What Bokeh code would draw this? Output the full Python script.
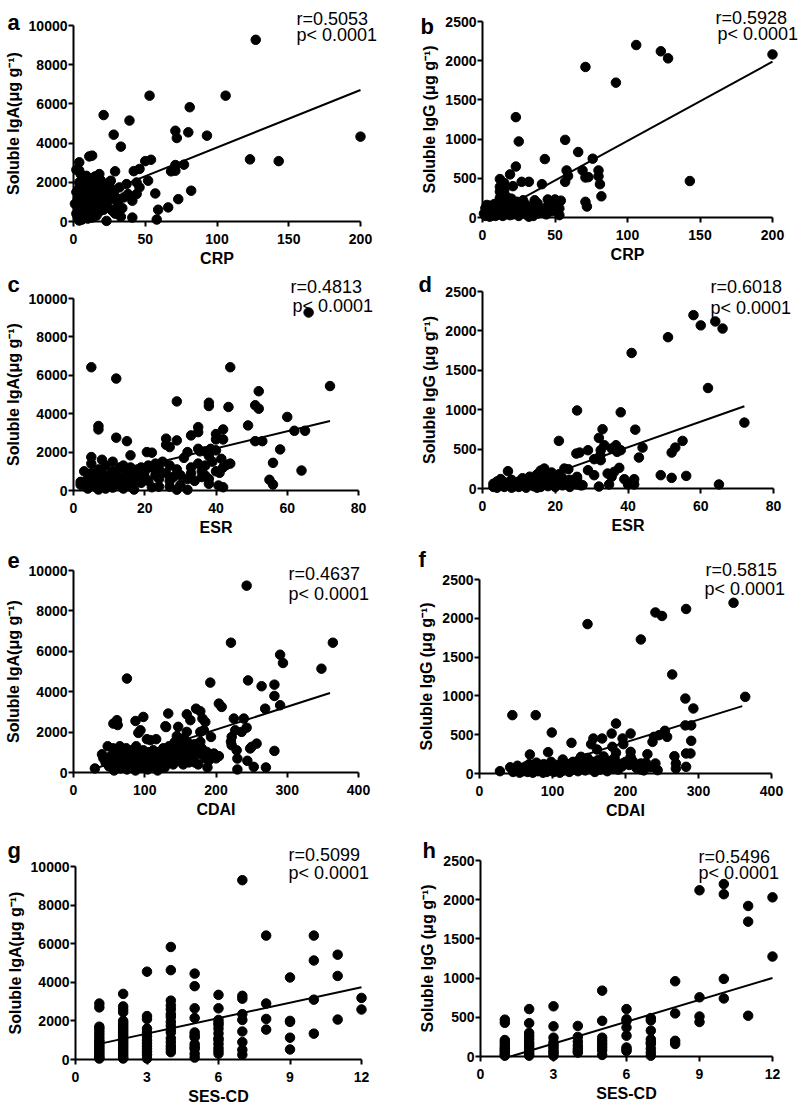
from bokeh.plotting import figure
from bokeh.models import Label, FixedTicker, Range1d
from bokeh.layouts import row, column
from bokeh.embed import file_html
from bokeh.resources import INLINE

FONT = "Liberation Sans"

# ---------------- data ----------------
# panel a: CRP vs soluble IgA
crp_iga = [
    (127, 9270), (53, 6420), (106, 6420), (81, 5830), (21, 5430), (39, 5150), (28, 4430), (71, 4630),
    (72, 4260), (80, 4550), (93, 4380), (200, 4330), (33, 3820), (123, 3170), (143, 3080), (50, 3080),
    (54, 3150), (71, 2880), (71, 2590), (77, 2900), (68, 2560), (29, 2560), (42, 2570), (46, 2680),
    (52, 2080), (82, 1570), (57, 1430), (73, 1140), (66, 720), (59, 600), (58, 100), (41, 200),
    (41, 1060), (33, 240), (34, 680), (27, 550), (23, 30), (37, 1910), (38, 1400), (44, 1990),
    (46, 1740), (44, 1400), (32, 1740), (35, 1230), (2, 2640), (4, 3020), (11, 3320), (13, 3360),
    (5, 2420), (4, 1990), (9, 2330), (18, 2420), (17, 2160), (25, 1990), (26, 2080),
    (1, 900), (2, 400), (2, 1500), (3, 200), (3, 700), (3, 1200), (4, 50), (4, 1000), (4, 1700),
    (5, 300), (5, 600), (5, 1400), (6, 100), (6, 800), (6, 1900), (7, 500), (7, 1100), (7, 1300),
    (8, 200), (8, 700), (8, 1600), (9, 400), (9, 900), (9, 1200), (10, 150), (10, 600), (10, 1000),
    (10, 1500), (11, 300), (11, 800), (11, 2000), (12, 500), (12, 1100), (12, 1300), (13, 200),
    (13, 700), (13, 1600), (14, 400), (14, 900), (14, 1800), (15, 600), (15, 1200), (16, 300),
    (16, 1000), (16, 1400), (17, 800), (17, 1700), (18, 500), (18, 1100), (19, 700), (19, 1300),
    (20, 900), (20, 1600), (21, 600), (21, 1200), (22, 1000), (22, 1500), (23, 800), (24, 1300),
    (25, 1100), (26, 1700), (27, 600), (28, 1500), (29, 400), (30, 1200), (31, 900), (4, 2600),
    (6, 2200), (15, 2300), (16, 1800), (19, 2100), (23, 1900), (25, 1500),
]
# panel b: CRP vs soluble IgG
crp_igg = [
    (106, 2200), (123, 2120), (128, 2030), (200, 2080), (71, 1920), (92, 1720), (23, 1280), (25, 970),
    (57, 990), (66, 835), (43, 745), (76, 750), (23, 650), (58, 600), (59, 530), (57, 455), (69, 600),
    (71, 510), (73, 515), (80, 600), (80, 525), (81, 425), (82, 270), (71, 200), (72, 140), (143, 465),
    (19, 550), (21, 400), (15, 440), (12, 490), (12, 390), (13, 305), (15, 350), (27, 455), (32, 455),
    (41, 425), (45, 230), (50, 230), (54, 215), (53, 115), (53, 30), (36, 220), (32, 10),
    (1, 50), (2, 120), (2, 20), (3, 80), (3, 160), (4, 40), (4, 100), (5, 10), (5, 150), (6, 60),
    (6, 130), (7, 30), (7, 90), (8, 170), (8, 50), (9, 110), (9, 20), (10, 70), (10, 140), (11, 200),
    (11, 40), (12, 100), (12, 250), (13, 60), (13, 180), (14, 20), (14, 130), (15, 90), (15, 220),
    (16, 40), (16, 160), (17, 110), (18, 60), (18, 200), (19, 30), (19, 140), (20, 90), (21, 170),
    (21, 40), (22, 120), (23, 60), (24, 150), (25, 20), (25, 100), (26, 180), (27, 50), (28, 130),
    (29, 80), (30, 160), (31, 30), (32, 110), (33, 60), (34, 140), (35, 20), (36, 90), (37, 170),
    (38, 50), (39, 120), (40, 70), (42, 100), (44, 40), (46, 130), (48, 80), (50, 160), (12, 330),
    (13, 380), (17, 260), (20, 240), (24, 200), (28, 220), (38, 180), (45, 150),
]
# panel c: ESR vs soluble IgA
esr_iga = [
    (66, 9270), (5, 6420), (12, 5830), (44, 6420), (72, 5440), (52, 5170), (51, 4440), (52, 4260),
    (29, 4640), (38, 4570), (38, 4400), (43.5, 4350), (60, 3830), (49, 3390), (7, 3360), (7, 3180),
    (35, 3300), (35, 3040), (42, 3180), (40, 2940), (40, 2660), (42, 2660), (62, 3110), (65, 3110),
    (33, 2870), (12, 2750), (15, 2570), (26, 2700), (26, 2380), (29, 2610), (27, 2260), (51, 2570),
    (53, 2570), (58, 2140), (38.5, 2170), (40, 2090), (35, 2170), (35.5, 2040), (37, 2040), (32, 2000),
    (20.6, 2000), (22, 1970), (16, 1830), (5, 1740), (41.5, 1650), (43, 1340), (56, 1440), (64, 1040),
    (41, 920), (55, 560), (56, 310), (40.7, 260), (42, 170), (29, 40), (32, 40), (22, 170), (37, 780),
    (38, 350),
    (2, 450), (3, 300), (3, 1000), (4, 100), (4, 600), (5, 400), (5, 1400), (6, 200), (6, 700),
    (7, 50), (7, 500), (7, 1100), (8, 300), (8, 900), (8, 1600), (9, 100), (9, 600), (10, 400),
    (10, 800), (11, 150), (11, 1000), (11, 1500), (12, 500), (12, 900), (13, 300), (13, 700),
    (13, 1200), (14, 100), (14, 600), (15, 400), (15, 1000), (16, 200), (16, 800), (16, 1200),
    (17, 500), (17, 50), (18, 700), (18, 1100), (19, 400), (19, 1200), (20, 700), (21, 1300),
    (21, 500), (22, 1200), (23, 800), (23, 1400), (24, 600), (24, 1100), (25, 1500), (26, 900),
    (27, 500), (27, 1300), (28, 700), (29, 1100), (30, 800), (31, 1700), (32, 600), (33, 1200),
    (33, 900), (34, 500), (35, 1400), (36, 1000), (36, 700), (37, 1300), (38, 600), (38, 1800),
    (39, 1500), (40, 1000), (42, 1200), (44, 1400), (2, 300), (5, 900), (9, 1300), (14, 1300),
    (20, 1000), (24, 200), (27, 200), (30, 300),
]
# panel d: ESR vs soluble IgG
esr_igg = [
    (58, 2200), (60, 2070), (64, 2120), (66, 2030), (51, 1920), (41, 1720), (62, 1275), (26, 990),
    (38, 967), (72, 836), (33, 752), (42, 747), (21, 604), (32, 642), (55, 604), (53, 519), (52, 456),
    (44, 519), (43, 393), (29, 486), (26.7, 456), (25.8, 443), (32.5, 486), (32.4, 422), (32.5, 359),
    (30.7, 372), (33.5, 549), (35.5, 507), (36.7, 549), (37, 465), (38, 486), (29, 232), (30.7, 169),
    (37.6, 262), (36.2, 211), (34.4, 190), (35.5, 148), (39, 118), (41.7, 118), (41.7, 51), (40, 51),
    (34.8, 51), (32, 25), (49, 169), (52, 135), (56, 160), (65, 51), (23.6, 245), (22.5, 253),
    (26, 148), (27.5, 42), (26, 51), (17, 253), (16, 228), (19, 203), (7, 220),
    (3, 20), (3, 60), (4, 10), (4, 90), (5, 40), (5, 120), (6, 20), (6, 80), (7, 50), (8, 10),
    (8, 110), (9, 60), (9, 30), (10, 90), (10, 20), (11, 130), (11, 50), (12, 10), (12, 100),
    (13, 70), (13, 150), (14, 30), (14, 120), (15, 60), (15, 180), (16, 20), (16, 100), (17, 70),
    (17, 140), (18, 30), (18, 110), (19, 60), (20, 150), (20, 20), (21, 90), (22, 40), (22, 130),
    (23, 70), (24, 20), (24, 110), (19, 100), (21, 180), (12, 50), (15, 10), (25, 80), (26, 120),
    (27, 40),
]
# panel e: CDAI vs soluble IgA
cdai_iga = [
    (243, 9250), (221, 6425), (364, 6425), (290, 5830), (294, 5420), (348, 5140), (75, 4650),
    (192, 4450), (245, 4560), (282, 4350), (282, 3790), (264, 4270), (290, 3330), (269, 3160),
    (204, 3410), (208, 3245), (172, 3160), (178, 3030), (133, 2920), (159, 2880), (164, 2590),
    (181, 2670), (185, 2500), (225, 2670), (239, 2670), (61, 2590), (56, 2420), (87, 2550),
    (98, 2750), (94, 2090), (91, 1960), (129, 2290), (147, 2260), (159, 2010), (178, 2010),
    (183, 2090), (193, 1760), (222, 1760), (221, 1520), (222, 1350), (227, 2090), (236, 2010),
    (243, 2220), (229, 1100), (248, 1190), (250, 1270), (257, 1430), (230, 690), (230, 150),
    (244, 580), (253, 280), (270, 250), (282, 1070), (188, 250), (103, 1650), (116, 1650),
    (178, 1520), (187, 1020), (197, 940), (204, 810), (166, 1350),
    (30, 200), (40, 900), (42, 700), (45, 500), (48, 1300), (50, 300), (52, 800), (55, 1200),
    (57, 100), (58, 600), (60, 1000), (62, 400), (65, 1300), (66, 200), (68, 700), (70, 1000),
    (72, 450), (74, 1200), (75, 150), (77, 600), (79, 900), (80, 300), (82, 1100), (84, 500),
    (85, 800), (87, 100), (88, 1300), (90, 400), (91, 700), (93, 1000), (95, 250), (96, 600),
    (98, 1100), (100, 400), (102, 900), (104, 150), (106, 1000), (108, 700), (110, 300),
    (112, 1100), (114, 500), (116, 800), (118, 100), (120, 1000), (122, 400), (124, 700),
    (126, 1200), (128, 250), (130, 900), (132, 500), (134, 1300), (136, 700), (138, 1000),
    (140, 400), (142, 1500), (144, 800), (146, 1200), (148, 600), (150, 1400), (152, 900),
    (154, 400), (156, 1100), (158, 700), (160, 1500), (162, 500), (164, 1000), (166, 800),
    (168, 1300), (170, 500), (172, 1000), (175, 400), (178, 900), (180, 1200), (185, 700),
    (190, 600), (195, 900), (200, 700), (62, 2350), (130, 2250), (145, 1800), (108, 1600),
    (155, 1700), (170, 1400),
]
# panel f: CDAI vs soluble IgG
cdai_igg = [
    (348, 2200), (283, 2120), (241, 2075), (250, 2030), (148, 1925), (221, 1727), (264, 1276),
    (364, 988), (282, 966), (293, 838), (45, 752), (77, 752), (99, 528), (187, 644), (126, 395),
    (94, 275), (69, 245), (207, 515), (181, 515), (196, 451), (197, 378), (168, 451), (156, 451),
    (153, 378), (161, 309), (182, 344), (239, 472), (237, 408), (246, 494), (254, 550), (257, 472),
    (283, 258), (289, 258), (290, 421), (282, 620), (290, 620), (267, 223), (269, 129), (269, 64),
    (283, 86), (230, 249), (228, 137), (221, 129), (221, 52), (241, 129), (244, 43), (207, 279),
    (207, 215), (196, 129), (187, 266), (139, 215),
    (28, 30), (42, 80), (46, 20), (50, 60), (52, 100), (55, 10), (58, 70), (60, 30), (63, 90),
    (66, 20), (68, 120), (70, 50), (73, 10), (75, 80), (78, 140), (80, 30), (82, 90), (85, 50),
    (87, 10), (88, 120), (90, 60), (92, 20), (95, 100), (97, 40), (98, 150), (100, 70), (102, 20),
    (105, 110), (107, 50), (110, 10), (112, 90), (114, 180), (116, 40), (118, 120), (120, 70),
    (123, 20), (125, 100), (128, 150), (130, 50), (132, 110), (135, 30), (137, 180), (140, 80),
    (142, 130), (145, 40), (148, 200), (150, 100), (152, 60), (155, 150), (158, 20), (160, 90),
    (162, 170), (165, 50), (168, 120), (170, 220), (172, 80), (175, 30), (178, 160), (180, 100),
    (183, 60), (185, 200), (188, 130), (190, 50), (195, 90), (200, 150), (205, 110), (210, 160),
    (215, 70), (225, 40), (235, 80),
]
# panel g: SES-CD vs soluble IgA (values per SES-CD score)
ses_iga = {
    1: [2900, 2700, 1700, 1600, 1450, 1300, 1150, 1000, 900, 800, 700, 600, 500, 400, 300, 200, 100, 50],
    2: [3400, 2750, 2600, 2450, 2000, 1900, 1800, 1700, 1600, 1500, 1400, 1300, 1200, 1100, 1000, 900,
        800, 700, 600, 500, 400, 300, 200, 100, 50],
    3: [4550, 2250, 2100, 1600, 1400, 1200, 1000, 850, 700, 550, 400, 250, 50],
    4: [5830, 4630, 3050, 2800, 2600, 2350, 2200, 1950, 1750, 1550, 1400, 1100, 900, 700, 550, 380],
    5: [4450, 3800, 2650, 2150, 1400, 1250, 1150, 800, 650, 550, 300, 100],
    6: [3350, 2650, 2050, 1900, 1800, 1600, 1350, 1100, 1000, 800, 600, 450, 300],
    7: [9290, 3300, 3150, 2350, 2050, 1450, 900, 500, 250],
    8: [6420, 2900, 2100, 1550],
    9: [4250, 2000, 1950, 1130, 520],
    10: [6420, 5130, 3100, 1340],
    11: [5430, 4330, 2070],
    12: [3190, 2590],
}
# panel h: SES-CD vs soluble IgG (values per SES-CD score)
ses_igg = {
    1: [470, 430, 210, 180, 150, 120, 100, 80, 60, 40, 20, 10],
    2: [605, 425, 300, 260, 220, 180, 150, 120, 90, 60, 30, 10],
    3: [640, 385, 240, 180, 150, 120, 90, 60, 40, 10],
    4: [390, 250, 190, 140, 100, 70, 50],
    5: [840, 455, 240, 200, 160, 120, 80, 20],
    6: [605, 475, 455, 370, 265, 115, 90, 70],
    7: [490, 460, 330, 220, 180, 160, 100, 50, 10],
    8: [960, 550, 200, 160],
    9: [2120, 755, 510, 440],
    10: [2200, 2070, 990, 740],
    11: [1920, 1720, 520],
    12: [2030, 1275],
}

# regression lines (end points)
fit_a = ([1, 200], [877, 6710])
fit_b = ([4, 200], [7, 1987])
fit_c = ([2, 72], [495, 3617])
fit_d = ([12, 72], [68, 1043])
fit_e = ([30, 360], [198, 3937])
fit_f = ([62, 360], [0, 868])
fit_g = ([1, 12], [810, 3741])
fit_h = ([1.23, 12], [0, 1001])

stats = {
    "a": ("r=0.5053", "p< 0.0001"), "b": ("r=0.5928", "p< 0.0001"),
    "c": ("r=0.4813", "p< 0.0001"), "d": ("r=0.6018", "p< 0.0001"),
    "e": ("r=0.4637", "p< 0.0001"), "f": ("r=0.5815", "p< 0.0001"),
    "g": ("r=0.5099", "p< 0.0001"), "h": ("r=0.5496", "p< 0.0001"),
}

iga_label = "Soluble IgA(\u03bcg g\u207b\u00b9)"
igg_label = "Soluble IgG (\u03bcg g\u207b\u00b9)"
ticks_iga = [0, 2000, 4000, 6000, 8000, 10000]
ticks_igg = [0, 500, 1000, 1500, 2000, 2500]


def split(pairs):
    return [p[0] for p in pairs], [p[1] for p in pairs]


def expand(d):
    xs, ys = [], []
    for k, vals in d.items():
        for v in vals:
            xs.append(k)
            ys.append(v)
    return xs, ys


# ---------------- layout (page pixels; the page has no margin) ----------------
W = 399
ROW_TOP = [0, 270, 548, 824]
ROW_H = [270, 278, 276, 279]


def panel(letter, col, r, frame, xmax, xticks, ymax, yticks, xlabel, ylabel, xs, ys, fit,
          r_pos, p_pos, letter_pos):
    H = ROW_H[r]
    cx = 0 if col == 0 else W
    # data rectangle inside the canvas (canvas-local pixels)
    fx0 = frame[0] - cx
    fx1 = frame[1] - cx
    fy0 = frame[2] - ROW_TOP[r]
    fy1 = frame[3] - ROW_TOP[r]
    FW = fx1 - fx0
    FH = fy1 - fy0
    # ranges chosen so that the whole canvas is the plotting frame
    xr = Range1d(-fx0 / FW * xmax, (W - fx0) / FW * xmax)
    yr = Range1d(-(H - fy1) / FH * ymax, fy1 / FH * ymax)

    def to_data(rx, ry):
        lx = rx - cx
        ly = ry - ROW_TOP[r]
        return (lx - fx0) / FW * xmax, (fy1 - ly) / FH * ymax

    p = figure(width=W, height=H, x_range=xr, y_range=yr, min_border=0,
               min_border_left=0, min_border_right=0, min_border_top=0, min_border_bottom=0,
               output_backend="svg", toolbar_location=None, tools="")
    p.outline_line_color = None
    p.grid.visible = False
    p.background_fill_color = "white"
    p.border_fill_color = "white"

    for ax in (p.xaxis[0], p.yaxis[0]):
        ax.fixed_location = 0
        ax.axis_line_width = 2
        ax.axis_line_color = "black"
        ax.major_tick_line_width = 2
        ax.major_tick_line_color = "black"
        ax.major_tick_out = 5
        ax.major_tick_in = 0
        ax.minor_tick_line_color = None
        ax.major_label_text_font = FONT
        ax.major_label_text_font_style = "bold"
        ax.major_label_text_font_size = "14px"
        ax.major_label_text_color = "black"
        ax.axis_label_text_font = FONT
        ax.axis_label_text_font_style = "bold"
        ax.axis_label_text_font_size = "16px"
        ax.axis_label_text_color = "black"
    p.xaxis.major_label_standoff = 7
    p.xaxis.axis_label_standoff = 3
    p.yaxis.major_label_standoff = 1
    p.yaxis.axis_label_standoff = 4
    p.xaxis.bounds = (0, xmax)
    p.yaxis.bounds = (0, ymax)
    p.xaxis.ticker = FixedTicker(ticks=xticks)
    p.yaxis.ticker = FixedTicker(ticks=yticks)
    p.xaxis.axis_label = xlabel
    p.yaxis.axis_label = ylabel

    p.line(fit[0], fit[1], line_color="black", line_width=2)
    p.scatter(xs, ys, size=9.5, fill_color="black", line_color="black")

    lx, ly = to_data(*letter_pos)
    p.add_layout(Label(x=lx, y=ly, text=letter, text_font=FONT, text_font_style="bold",
                       text_font_size="22px", text_color="black", text_baseline="alphabetic"))
    for txt, pos in zip(stats[letter], (r_pos, p_pos)):
        tx, ty = to_data(*pos)
        p.add_layout(Label(x=tx, y=ty, text=txt, text_font=FONT, text_font_size="18px",
                           text_color="black", text_baseline="alphabetic"))
    return p


xa, ya = split(crp_iga)
xb, yb = split(crp_igg)
xc, yc = split(esr_iga)
xd, yd = split(esr_igg)
xe, ye = split(cdai_iga)
xf, yf = split(cdai_igg)
xg, yg = expand(ses_iga)
xh, yh = expand(ses_igg)

pa = panel("a", 0, 0, (73, 360, 25, 221), 200, [0, 50, 100, 150, 200], 10000, ticks_iga, "CRP", iga_label,
           xa, ya, fit_a, (296, 18), (296, 34.5), (7, 22))
pb = panel("b", 1, 0, (482, 772, 21, 217), 200, [0, 50, 100, 150, 200], 2500, ticks_igg, "CRP", igg_label,
           xb, yb, fit_b, (715, 17), (717, 33.5), (420, 26))
pc = panel("c", 0, 1, (73, 358, 298, 490), 80, [0, 20, 40, 60, 80], 10000, ticks_iga, "ESR", iga_label,
           xc, yc, fit_c, (290, 286), (292, 305), (7, 284))
pd = panel("d", 1, 1, (482, 773, 291, 488), 80, [0, 20, 40, 60, 80], 2500, ticks_igg, "ESR", igg_label,
           xd, yd, fit_d, (710, 286), (710, 307), (418, 284))
pe = panel("e", 0, 2, (73, 358, 570, 772), 400, [0, 100, 200, 300, 400], 10000, ticks_iga, "CDAI", iga_label,
           xe, ye, fit_e, (288, 573), (288, 593), (7, 560))
pf = panel("f", 1, 2, (479, 771, 579, 773), 400, [0, 100, 200, 300, 400], 2500, ticks_igg, "CDAI", igg_label,
           xf, yf, fit_f, (705, 569), (704, 588), (418, 559))
pg = panel("g", 0, 3, (75, 361, 866, 1059), 12, [0, 3, 6, 9, 12], 10000, ticks_iga, "SES-CD", iga_label,
           xg, yg, fit_g, (288, 854), (288, 872), (7, 850))
ph = panel("h", 1, 3, (480, 772, 860, 1056), 12, [0, 3, 6, 9, 12], 2500, ticks_igg, "SES-CD", igg_label,
           xh, yh, fit_h, (698, 856), (698, 872), (422, 850))

layout = column(row(pa, pb), row(pc, pd), row(pe, pf), row(pg, ph))

open("out.html", "w").write(file_html(layout, INLINE))
